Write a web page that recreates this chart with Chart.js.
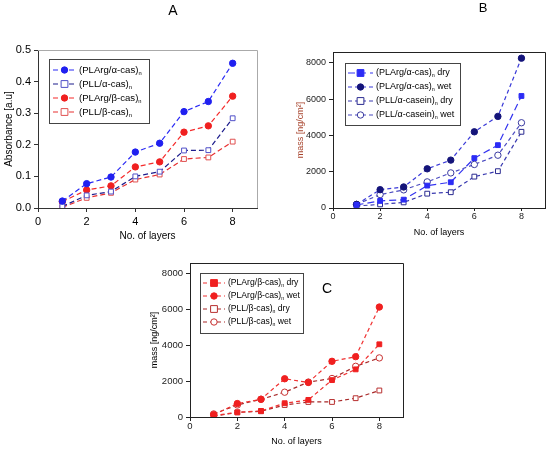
<!DOCTYPE html>
<html>
<head>
<meta charset="utf-8">
<script src="https://cdn.jsdelivr.net/npm/chart.js@4.4.0/dist/chart.umd.min.js"></script>
<style>
  html, body { margin: 0; padding: 0; background: #fff; }
  body { width: 550px; height: 451px; position: relative; overflow: hidden; }
  .panel { position: absolute; }
</style>
</head>
<body>
<div class="panel" style="left:0;top:0;width:270px;height:245px"><canvas id="chartA"></canvas></div>
<div class="panel" style="left:275px;top:0;width:275px;height:245px"><canvas id="chartB"></canvas></div>
<div class="panel" style="left:130px;top:245px;width:290px;height:206px"><canvas id="chartC"></canvas></div>
<script>
// Data
const layers = [1, 2, 3, 4, 5, 6, 7, 8];
const xTicks = [0, 2, 4, 6, 8];

// A: absorbance
const absArgAlpha = [0.022, 0.077, 0.098, 0.177, 0.205, 0.305, 0.337, 0.458];
const absPllAlpha = [0.005, 0.040, 0.052, 0.100, 0.115, 0.182, 0.183, 0.284];
const absArgBeta  = [0.020, 0.057, 0.070, 0.130, 0.146, 0.240, 0.260, 0.354];
const absPllBeta  = [0.002, 0.032, 0.048, 0.090, 0.106, 0.155, 0.160, 0.210];
const absTicks = [0, 0.1, 0.2, 0.3, 0.4, 0.5];

// B: mass, alpha-casein
const massArgAlphaDry = [170, 390, 460, 1235, 1420, 2750, 3465, 6175];
const massArgAlphaWet = [200, 1010, 1160, 2160, 2640, 4200, 5050, 8260];
const massPllAlphaDry = [110, 200, 310, 790, 870, 1730, 2030, 4200];
const massPllAlphaWet = [200, 740, 1000, 1440, 1935, 2400, 2910, 4700];

// C: mass, beta-casein
const massArgBetaDry = [75, 260, 340, 770, 955, 2060, 2660, 4060];
const massArgBetaWet = [130, 750, 990, 2135, 1930, 3110, 3370, 6140];
const massPllBetaDry = [40, 260, 320, 670, 840, 840, 1050, 1480];
const massPllBetaWet = [170, 670, 990, 1385, 1950, 2150, 2830, 3300];
const massTicks = [0, 2000, 4000, 6000, 8000];

// Legend labels: [main, subscript, suffix]
const labelsA = [['(PLArg/α-cas)', 'n', ''], ['(PLL/α-cas)', 'n', ''], ['(PLArg/β-cas)', 'n', ''], ['(PLL/β-cas)', 'n', '']];
const labelsB = [['(PLArg/α-cas)', 'n', ' dry'], ['(PLArg/α-cas)', 'n', ' wet'], ['(PLL/α-casein)', 'n', ' dry'], ['(PLL/α-casein)', 'n', ' wet']];
const labelsC = [['(PLArg/β-cas)', 'n', ' dry'], ['(PLArg/β-cas)', 'n', ' wet'], ['(PLL/β-cas)', 'n', ' dry'], ['(PLL/β-cas)', 'n', ' wet']];

const FONT = 'Liberation Sans, Arial, sans-serif';

function series(label, values, color, markColor, shape, filled, dash) {
    return {
        label: label,
        data: values.map((v, i) => ({ x: layers[i], y: v })),
        borderColor: color,
        borderWidth: 1.2,
        borderDash: dash,
        pointStyle: shape,
        pointRadius: shape === 'rect' ? 3.4 : 3.2,
        pointBorderWidth: 1,
        pointBorderColor: markColor,
        pointBackgroundColor: filled ? markColor : '#fff',
        fill: false,
        tension: 0
    };
}

// frame (top/right), titles, boxed legend with subscripts
const figurePlugin = {
    id: 'figure',
    afterDraw(chart, args, opts) {
        const ctx = chart.ctx;
        const a = chart.chartArea;
        ctx.save();
        ctx.setLineDash([]);
        ctx.strokeStyle = opts.frameColor;
        ctx.lineWidth = 1;
        ctx.beginPath();
        ctx.moveTo(a.left, a.top + 0.5);
        ctx.lineTo(a.right + 0.5, a.top + 0.5);
        ctx.lineTo(a.right + 0.5, a.bottom);
        ctx.stroke();

        if (opts.title) {
            ctx.fillStyle = '#000';
            ctx.font = opts.title.size + 'px ' + FONT;
            ctx.textAlign = 'center';
            ctx.textBaseline = 'middle';
            ctx.fillText(opts.title.text, opts.title.x, opts.title.y);
        }

        const lg = opts.legend;
        ctx.strokeStyle = '#444';
        ctx.lineWidth = 1;
        ctx.strokeRect(lg.x + 0.5, lg.y + 0.5, lg.w, lg.h);
        chart.data.datasets.forEach((ds, i) => {
            const y = lg.y + lg.first + i * lg.step;
            ctx.strokeStyle = ds.borderColor;
            ctx.lineWidth = 1.2;
            ctx.setLineDash(ds.borderDash);
            ctx.beginPath();
            ctx.moveTo(lg.x + lg.lineFrom, y);
            ctx.lineTo(lg.x + lg.lineTo, y);
            ctx.stroke();
            ctx.setLineDash([]);
            const mx = lg.x + (lg.lineFrom + lg.lineTo) / 2;
            ctx.fillStyle = ds.pointBackgroundColor;
            ctx.strokeStyle = ds.pointBorderColor;
            ctx.lineWidth = 1;
            ctx.beginPath();
            if (ds.pointStyle === 'rect') {
                const r = ds.pointRadius;
                ctx.rect(mx - r, y - r, 2 * r, 2 * r);
            } else {
                ctx.arc(mx, y, ds.pointRadius, 0, Math.PI * 2);
            }
            ctx.fill();
            ctx.stroke();

            const parts = lg.labels[i];
            let tx = lg.x + lg.textX;
            ctx.fillStyle = '#000';
            ctx.textAlign = 'left';
            ctx.textBaseline = 'middle';
            ctx.font = lg.size + 'px ' + FONT;
            ctx.fillText(parts[0], tx, y);
            tx += ctx.measureText(parts[0]).width;
            ctx.font = (lg.size * 0.6) + 'px ' + FONT;
            ctx.fillText(parts[1], tx, y + lg.size * 0.32);
            tx += ctx.measureText(parts[1]).width;
            ctx.font = lg.size + 'px ' + FONT;
            ctx.fillText(parts[2], tx, y);
        });
        ctx.restore();
    }
};

function buildOptions(cfg) {
    return {
        responsive: true,
        maintainAspectRatio: false,
        animation: false,
        layout: { padding: cfg.padding },
        plugins: {
            legend: { display: false },
            tooltip: { enabled: false },
            figure: cfg.figure
        },
        scales: {
            x: {
                type: 'linear',
                min: 0,
                max: 9,
                afterBuildTicks: (s) => { s.ticks = xTicks.map(v => ({ value: v })); },
                afterFit: (s) => { s.height = cfg.xHeight; },
                grid: { display: true, drawOnChartArea: false, drawTicks: true, tickLength: cfg.xTickLen, color: cfg.axisColor },
                border: { display: true, color: cfg.axisColor, width: 1 },
                ticks: { color: cfg.tickColor, font: { family: FONT, size: cfg.fontSize }, padding: cfg.xTickPad, maxRotation: 0 },
                title: { display: true, text: 'No. of layers', color: '#000', font: { family: FONT, size: cfg.titleSize }, padding: cfg.xTitlePad }
            },
            y: {
                type: 'linear',
                min: 0,
                max: cfg.yMax,
                afterBuildTicks: (s) => { s.ticks = cfg.yTicks.map(v => ({ value: v })); },
                afterFit: (s) => { s.width = cfg.yWidth; },
                grid: { display: true, drawOnChartArea: false, drawTicks: true, tickLength: 4, color: cfg.axisColor },
                border: { display: true, color: cfg.axisColor, width: 1 },
                ticks: { color: cfg.tickColor, font: { family: FONT, size: cfg.fontSize }, padding: 3, callback: cfg.yFormat },
                title: { display: true, text: cfg.yTitle, color: cfg.yTitleColor, font: { family: FONT, size: cfg.titleSize }, padding: { top: 0, bottom: 0 } }
            }
        }
    };
}

document.addEventListener('DOMContentLoaded', () => {
    const dashA = [5, 3];

    // A
    new Chart(document.getElementById('chartA'), {
        type: 'line',
        data: {
            datasets: [
                series('PLArg/α-cas', absArgAlpha, '#2a2af5', '#2020f0', 'circle', true, dashA),
                series('PLL/α-cas', absPllAlpha, '#1c1c8c', '#5050c8', 'rect', false, dashA),
                series('PLArg/β-cas', absArgBeta, '#f52a2a', '#f02020', 'circle', true, dashA),
                series('PLL/β-cas', absPllBeta, '#e83030', '#e05050', 'rect', false, dashA)
            ]
        },
        options: buildOptions({
            padding: { left: 3, top: 50, right: 13, bottom: 0 },
            xHeight: 37, yWidth: 35, fontSize: 11, titleSize: 10,
            xTickLen: 4, xTickPad: 3,
            axisColor: '#333', tickColor: '#000',
            yMax: 0.5, yTicks: absTicks, yFormat: (v) => v.toFixed(1),
            yTitle: 'Absorbance [a.u]', yTitleColor: '#000',
            xTitlePad: { top: 4, bottom: 3 },
            figure: {
                frameColor: '#aaa',
                title: { text: 'A', x: 173, y: 11, size: 14 },
                legend: { x: 49, y: 59, w: 100, h: 64, first: 11, step: 14, lineFrom: 4, lineTo: 27, textX: 30, size: 9.6, labels: labelsA }
            }
        }),
        plugins: [figurePlugin]
    });

    // B
    new Chart(document.getElementById('chartB'), {
        type: 'line',
        data: {
            datasets: [
                series('PLArg/α-cas dry', massArgAlphaDry, '#3434f0', '#2c2cf5', 'rect', true, [7, 4]),
                series('PLArg/α-cas wet', massArgAlphaWet, '#3a3ad8', '#14147a', 'circle', true, [4, 3]),
                series('PLL/α-casein dry', massPllAlphaDry, '#3a3ab0', '#2a2a90', 'rect', false, [4, 3]),
                series('PLL/α-casein wet', massPllAlphaWet, '#4a4ac0', '#3a3aa0', 'circle', false, [4, 3])
            ]
        },
        options: buildOptions({
            padding: { left: 20, top: 52, right: 2, bottom: 0 },
            xHeight: 37, yWidth: 38, fontSize: 9, titleSize: 9,
            xTickLen: 3, xTickPad: 0,
            axisColor: '#222', tickColor: '#222',
            yMax: 8600, yTicks: massTicks, yFormat: (v) => String(v),
            yTitle: 'mass [ng/cm²]', yTitleColor: '#a8452e',
            xTitlePad: { top: 4, bottom: 7 },
            figure: {
                frameColor: '#222',
                title: { text: 'B', x: 208, y: 8, size: 13 },
                legend: { x: 70, y: 63, w: 115, h: 62, first: 10, step: 14, lineFrom: 3, lineTo: 28, textX: 31, size: 9, labels: labelsB }
            }
        }),
        plugins: [figurePlugin]
    });

    // C
    new Chart(document.getElementById('chartC'), {
        type: 'line',
        data: {
            datasets: [
                series('PLArg/β-cas dry', massArgBetaDry, '#f03030', '#f02020', 'rect', true, [4, 3]),
                series('PLArg/β-cas wet', massArgBetaWet, '#f03030', '#f02020', 'circle', true, [4, 3]),
                series('PLL/β-cas dry', massPllBetaDry, '#a82828', '#b83030', 'rect', false, [4, 3]),
                series('PLL/β-cas wet', massPllBetaWet, '#a82828', '#c83030', 'circle', false, [4, 3])
            ]
        },
        options: buildOptions({
            padding: { left: 19, top: 18, right: 17, bottom: 0 },
            xHeight: 34, yWidth: 41, fontSize: 9.5, titleSize: 9,
            xTickLen: 4, xTickPad: 0,
            axisColor: '#222', tickColor: '#222',
            yMax: 8600, yTicks: massTicks, yFormat: (v) => String(v),
            yTitle: 'mass [ng/cm²]', yTitleColor: '#000',
            xTitlePad: { top: 4, bottom: 4 },
            figure: {
                frameColor: '#222',
                title: { text: 'C', x: 197, y: 44, size: 14 },
                legend: { x: 70, y: 28, w: 103, h: 60, first: 10, step: 13, lineFrom: 3, lineTo: 25, textX: 28, size: 8.6, labels: labelsC }
            }
        }),
        plugins: [figurePlugin]
    });
});
</script>
</body>
</html>
